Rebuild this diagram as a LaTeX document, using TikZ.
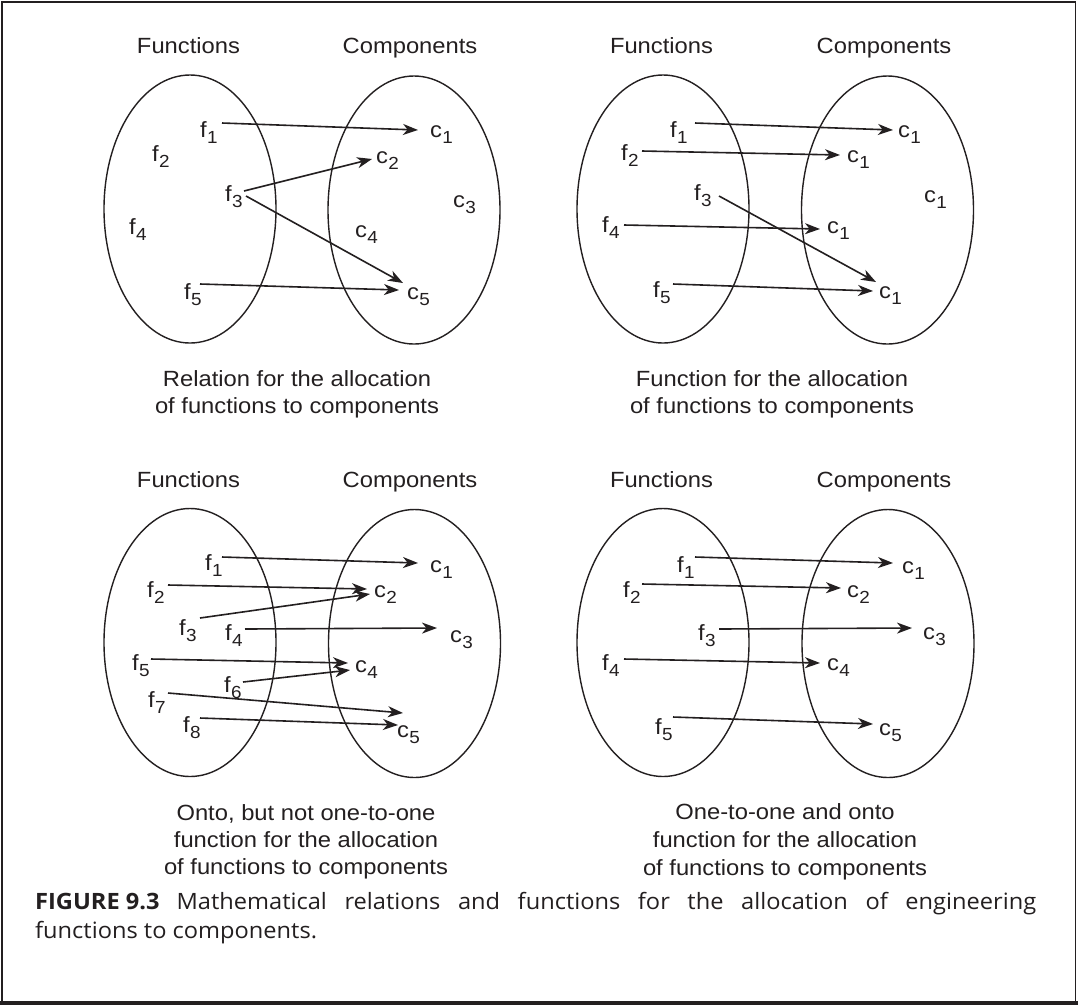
\documentclass[tikz,border=0pt]{standalone}
\usepackage{fontspec}
\usetikzlibrary{arrows.meta,shapes.geometric}
\newfontfamily\figfont{Liberation Sans}[FakeStretch=1.08]
\newfontfamily\capfont{Open Sans}[FakeStretch=1.05]
\definecolor{ink}{RGB}{35,31,32}
% element name with a lowered index, e.g. f_1
\newcommand\sublabel[2]{#1\kern0.3pt\raisebox{-6pt}{\fontsize{17.5}{18}\selectfont #2}}
\begin{document}
\begin{tikzpicture}[x=1pt,y=-1pt,
  txt/.style={font={\figfont\fontsize{22}{26}\selectfont}, text=ink, inner sep=0pt},
  hdr/.style={txt, anchor=base},
  lbl/.style={txt, anchor=base west},
  setbox/.style={draw=ink, line width=1.4pt, ellipse, minimum width=172pt,
                 minimum height=268pt, inner sep=0pt},
  arr/.style={draw=ink, line width=1.6pt,
              -{Stealth[length=15pt,width=11pt,inset=4.5pt]}},
  captxt/.style={font={\capfont\fontsize{22.5}{28}\selectfont}, text=ink,
                 inner sep=0pt, anchor=base west}]
\useasboundingbox (0,0) rectangle (1078,1005);
\fill[white] (0,0) rectangle (1078,1005);
% outer frame
\draw[ink, line width=1.8pt] (1.7,1.7) rectangle (1075.5,1002.5);
\draw[ink, line width=4pt] (0,1003) -- (1078,1003);

% ---------------- relation ----------------
\node[hdr] (aF) at (188.5,53) {Functions};
\node[hdr] (aC) at (410,53) {Components};
\node[setbox] (aSF) at (190,209) {};
\node[setbox] (aSC) at (414,210) {};
\node[lbl] (af1) at (200,137) {\sublabel{f}{1}};
\node[lbl] (af2) at (152,161) {\sublabel{f}{2}};
\node[lbl] (af3) at (225,201) {\sublabel{f}{3}};
\node[lbl] (af4) at (129,234) {\sublabel{f}{4}};
\node[lbl] (af5) at (184,299) {\sublabel{f}{5}};
\node[lbl] (ac1) at (430,137) {\sublabel{c}{1}};
\node[lbl] (ac2) at (376,163) {\sublabel{c}{2}};
\node[lbl] (ac3) at (453,207) {\sublabel{c}{3}};
\node[lbl] (ac4) at (355,237) {\sublabel{c}{4}};
\node[lbl] (ac5) at (407,299) {\sublabel{c}{5}};
\draw[arr] ([shift={(22,-14)}]af1.base west) -- ([shift={(-12,-7)}]ac1.base west);
\draw[arr] ([shift={(19,-10)}]af3.base west) -- ([shift={(-4,-4)}]ac2.base west);
\draw[arr] ([shift={(21,-5)}]af3.base west) -- ([shift={(-4,-16)}]ac5.base west);
\draw[arr] ([shift={(16,-15)}]af5.base west) -- ([shift={(-8,-9)}]ac5.base west);
\node[hdr] (aT1) at (297,386) {Relation for the allocation};
\node[hdr] (aT2) at (297,413) {of functions to components};

% ---------------- function ----------------
\node[hdr] (bF) at (661.5,53) {Functions};
\node[hdr] (bC) at (884,53) {Components};
\node[setbox] (bSF) at (663,209) {};
\node[setbox] (bSC) at (887.5,210) {};
\node[lbl] (bf1) at (670,137) {\sublabel{f}{1}};
\node[lbl] (bf2) at (621,160) {\sublabel{f}{2}};
\node[lbl] (bf3) at (694,200) {\sublabel{f}{3}};
\node[lbl] (bf4) at (602,232) {\sublabel{f}{4}};
\node[lbl] (bf5) at (653,297) {\sublabel{f}{5}};
\node[lbl] (bc1) at (898,137) {\sublabel{c}{1}};
\node[lbl] (bc2) at (847,162) {\sublabel{c}{1}};
\node[lbl] (bc3) at (924,202) {\sublabel{c}{1}};
\node[lbl] (bc4) at (827,233) {\sublabel{c}{1}};
\node[lbl] (bc5) at (879,298) {\sublabel{c}{1}};
\draw[arr] ([shift={(25,-14)}]bf1.base west) -- ([shift={(-5,-7)}]bc1.base west);
\draw[arr] ([shift={(21,-9)}]bf2.base west) -- ([shift={(-7,-7)}]bc2.base west);
\draw[arr] ([shift={(25,-4)}]bf3.base west) -- ([shift={(-3,-16)}]bc5.base west);
\draw[arr] ([shift={(22,-7)}]bf4.base west) -- ([shift={(-7,-4)}]bc4.base west);
\draw[arr] ([shift={(20,-13)}]bf5.base west) -- ([shift={(-6,-7)}]bc5.base west);
\node[hdr] (bT1) at (772,386) {Function for the allocation};
\node[hdr] (bT2) at (772,413) {of functions to components};

% ---------------- onto, not one-to-one ----------------
\node[hdr] (cF) at (188.5,487) {Functions};
\node[hdr] (cC) at (410,487) {Components};
\node[setbox] (cSF) at (190,642.5) {};
\node[setbox] (cSC) at (414.5,643.5) {};
\node[lbl] (cf1) at (205,570) {\sublabel{f}{1}};
\node[lbl] (cf2) at (147,597) {\sublabel{f}{2}};
\node[lbl] (cf3) at (179,635) {\sublabel{f}{3}};
\node[lbl] (cf4) at (225,640) {\sublabel{f}{4}};
\node[lbl] (cf5) at (132,670) {\sublabel{f}{5}};
\node[lbl] (cf6) at (224,692) {\sublabel{f}{6}};
\node[lbl] (cf7) at (148,707) {\sublabel{f}{7}};
\node[lbl] (cf8) at (183,732) {\sublabel{f}{8}};
\node[lbl] (cc1) at (430,572) {\sublabel{c}{1}};
\node[lbl] (cc2) at (374,597) {\sublabel{c}{2}};
\node[lbl] (cc3) at (450,642) {\sublabel{c}{3}};
\node[lbl] (cc4) at (355,672) {\sublabel{c}{4}};
\node[lbl] (cc5) at (397,737) {\sublabel{c}{5}};
\draw[arr] ([shift={(17,-13)}]cf1.base west) -- ([shift={(-12,-9)}]cc1.base west);
\draw[arr] ([shift={(21,-12)}]cf2.base west) -- ([shift={(-7,-8)}]cc2.base west);
\draw[arr] ([shift={(21,-17)}]cf3.base west) -- ([shift={(-4,-3)}]cc2.base west);
\draw[arr] ([shift={(20,-11)}]cf4.base west) -- ([shift={(-13,-14)}]cc3.base west);
\draw[arr] ([shift={(19,-11)}]cf5.base west) -- ([shift={(-7,-9)}]cc4.base west);
\draw[arr] ([shift={(19,-10)}]cf6.base west) -- ([shift={(-5,-2)}]cc4.base west);
\draw[arr] ([shift={(20,-14)}]cf7.base west) -- ([shift={(6,-24)}]cc5.base west);
\draw[arr] ([shift={(17,-14)}]cf8.base west) -- ([shift={(1,-12)}]cc5.base west);
\node[hdr] (cT1) at (306,820) {Onto, but not one-to-one};
\node[hdr] (cT2) at (306,847) {function for the allocation};
\node[hdr] (cT3) at (306,874) {of functions to components};

% ---------------- one-to-one and onto ----------------
\node[hdr] (dF) at (661.5,487) {Functions};
\node[hdr] (dC) at (884,487) {Components};
\node[setbox] (dSF) at (663,642.5) {};
\node[setbox] (dSC) at (888,643.5) {};
\node[lbl] (df1) at (677,572) {\sublabel{f}{1}};
\node[lbl] (df2) at (623,597) {\sublabel{f}{2}};
\node[lbl] (df3) at (698,640) {\sublabel{f}{3}};
\node[lbl] (df4) at (602,670) {\sublabel{f}{4}};
\node[lbl] (df5) at (655,734) {\sublabel{f}{5}};
\node[lbl] (dc1) at (902,573) {\sublabel{c}{1}};
\node[lbl] (dc2) at (847,597) {\sublabel{c}{2}};
\node[lbl] (dc3) at (923,639) {\sublabel{c}{3}};
\node[lbl] (dc4) at (827,670) {\sublabel{c}{4}};
\node[lbl] (dc5) at (879,735) {\sublabel{c}{5}};
\draw[arr] ([shift={(18,-15)}]df1.base west) -- ([shift={(-9,-10)}]dc1.base west);
\draw[arr] ([shift={(19,-13)}]df2.base west) -- ([shift={(-6,-9)}]dc2.base west);
\draw[arr] ([shift={(21,-11)}]df3.base west) -- ([shift={(-11,-11)}]dc3.base west);
\draw[arr] ([shift={(22,-11)}]df4.base west) -- ([shift={(-7,-7)}]dc4.base west);
\draw[arr] ([shift={(18,-17)}]df5.base west) -- ([shift={(-6,-11)}]dc5.base west);
\node[hdr] (dT1) at (785,819) {One-to-one and onto};
\node[hdr] (dT2) at (785,847) {function for the allocation};
\node[hdr] (dT3) at (785,875) {of functions to components};

% ---------------- figure caption ----------------
\node[captxt] (cap1) at (35,909) {\makebox[1001pt][s]{\mbox{\bfseries FIGURE 9.3}\hspace{17pt}Mathematical relations and functions for the allocation of engineering}};
\node[captxt] (cap2) at (35,938.3) {functions to components.};
\end{tikzpicture}
\end{document}
